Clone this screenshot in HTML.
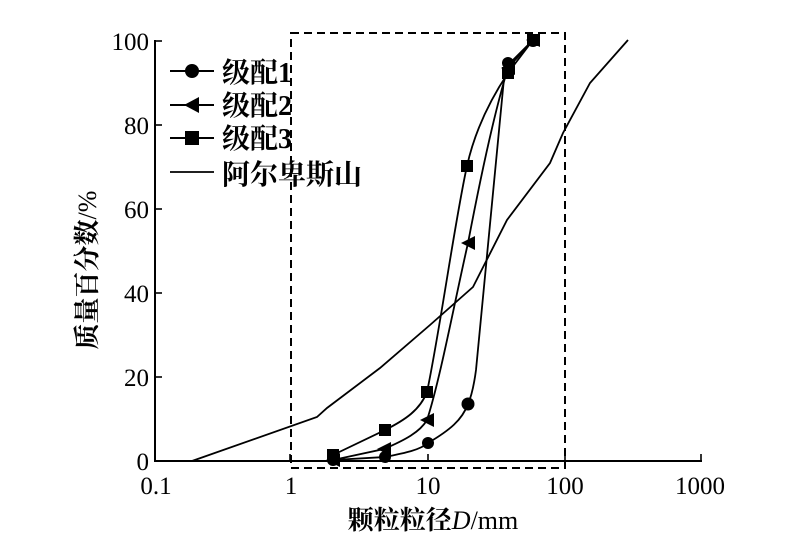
<!DOCTYPE html>
<html><head><meta charset="utf-8"><style>
body{margin:0;background:#fff}
svg{display:block}
text{font-family:"Liberation Serif","Noto Serif CJK SC",serif;fill:#000}
</style></head><body>
<svg width="811" height="555" viewBox="0 0 811 555">
<g stroke="#000" stroke-width="2" fill="none">
<line x1="155" y1="40" x2="155" y2="462"/>
<line x1="154" y1="461" x2="702" y2="461"/>
<g stroke-width="1.6">
<line x1="155" y1="41" x2="162" y2="41"/><line x1="155" y1="125" x2="162" y2="125"/>
<line x1="155" y1="209" x2="162" y2="209"/><line x1="155" y1="293" x2="162" y2="293"/>
<line x1="155" y1="377" x2="162" y2="377"/>
<line x1="290" y1="461" x2="290" y2="454"/><line x1="428" y1="461" x2="428" y2="454"/>
<line x1="565" y1="461" x2="565" y2="454"/><line x1="701" y1="461" x2="701" y2="454"/>
</g>
<rect x="291" y="33" width="274" height="435" stroke-dasharray="8,5" stroke-width="2"/>
<polyline points="192,461 317,417 327,408 380,368 430,325 473,287 507,220 550,163 563,133 590,83 628,40" stroke-width="1.8"/>
<path d="M333,460 L385,457 C405,453 420,450 428,443 C450,430 462,420 468,404 C472,395 474,385 476,370 L505,68 L533,40" stroke-width="1.8"/>
<path d="M333,460 L384,449 C405,440 420,432 427,420 C440,380 455,300 468,243 C480,180 495,110 508,68 L533,40" stroke-width="1.8"/>
<path d="M333,455 L385,430 C405,420 420,410 427,392 C440,330 455,220 467,166 C475,130 490,100 508,73 L533,40" stroke-width="1.8"/>
<line x1="170" y1="71" x2="214" y2="71"/><line x1="170" y1="105" x2="214" y2="105"/>
<line x1="170" y1="138" x2="214" y2="138"/><line x1="170" y1="172" x2="214" y2="172" stroke-width="1.8"/>
</g>
<g fill="#000">
<circle cx="192" cy="71" r="7"/><polygon points="184,105 199,97 199,113"/><rect x="185" y="131" width="14" height="14"/>
<circle cx="333" cy="460" r="6"/><circle cx="385" cy="457" r="6"/><circle cx="428" cy="443" r="6"/><circle cx="468" cy="404" r="6.5"/><circle cx="508" cy="63" r="6"/><circle cx="533" cy="41" r="6"/>
<polygon points="326,460 340,453 340,467"/><polygon points="377,449 391,442 391,456"/><polygon points="420,420 434,413 434,427"/><polygon points="461,243 475,236 475,250"/><polygon points="501,68 515,61 515,75"/><polygon points="526,40 540,33 540,47"/>
<rect x="327" y="449" width="12" height="12"/><rect x="379" y="424" width="12" height="12"/><rect x="421" y="386" width="12" height="12"/><rect x="461" y="160" width="12" height="12"/><rect x="502" y="67" width="12" height="12"/><rect x="527" y="34" width="12" height="12"/>
</g>
<g font-size="28" font-weight="bold">
<text x="222" y="82">级配1</text><text x="222" y="115">级配2</text><text x="222" y="148">级配3</text><text x="222" y="184">阿尔卑斯山</text>
</g>
<g font-size="25" text-anchor="end">
<text x="149" y="50">100</text><text x="149" y="134">80</text><text x="149" y="218">60</text><text x="149" y="302">40</text><text x="149" y="386">20</text><text x="149" y="470">0</text>
</g>
<g font-size="25" text-anchor="middle">
<text x="156" y="494">0.1</text><text x="291" y="494">1</text><text x="428" y="494">10</text><text x="565" y="494">100</text><text x="700" y="494">1000</text>
<text x="433" y="529" font-size="26" font-weight="bold">颗粒粒径<tspan font-style="italic" font-weight="normal">D</tspan><tspan font-weight="normal">/mm</tspan></text>
<text transform="translate(96,270) rotate(-90)" font-size="26" font-weight="bold">质量百分数<tspan font-weight="normal">/%</tspan></text>
</g>
</svg>
</body></html>
